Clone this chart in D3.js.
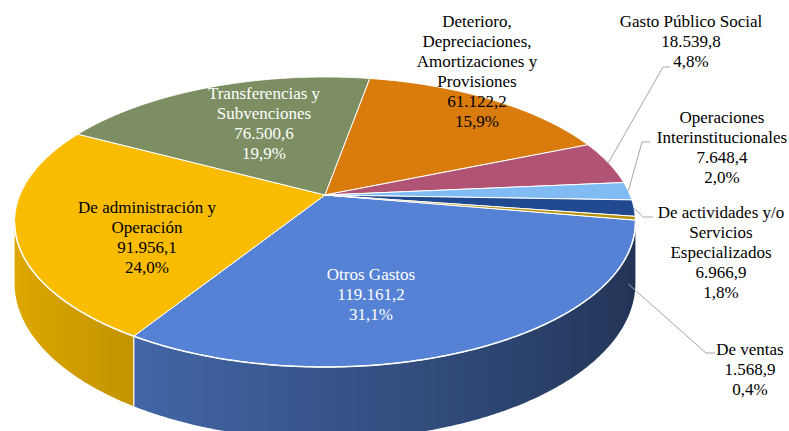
<!DOCTYPE html>
<html>
<head>
<meta charset="utf-8">
<script src="https://cdn.jsdelivr.net/npm/d3@7"></script>
<style>
  body { margin: 0; background: #fff; }
  svg { display: block; }
</style>
</head>
<body>
<div id="chart"></div>
<script>
// Data
const categoryLines = [
    ['Otros Gastos'],
    ['De administración y', 'Operación'],
    ['Transferencias y', 'Subvenciones'],
    ['Deterioro,', 'Depreciaciones,', 'Amortizaciones y', 'Provisiones'],
    ['Gasto Público Social'],
    ['Operaciones', 'Interinstitucionales'],
    ['De actividades y/o', 'Servicios', 'Especializados'],
    ['De ventas']
];
const values = [119161.2, 91956.1, 76500.6, 61122.2, 18539.8, 7648.4, 6966.9, 1568.9];
const percentLabels = ['31,1%', '24,0%', '19,9%', '15,9%', '4,8%', '2,0%', '1,8%', '0,4%'];

// Styles
const colors = ['#5582d5', '#f9bc00', '#7d8e63', '#d97c0d', '#b15375', '#80bcf3', '#21498f', '#b8920b'];
const textColors = ['#fff', '#000', '#fff', '#000', '#000', '#000', '#000', '#000'];

// Label layout: anchor of first baseline, optional leader elbow
const labelLayout = [
    { x: 371, y: 280 },
    { x: 147, y: 213 },
    { x: 264, y: 99 },
    { x: 477, y: 27 },
    { x: 691, y: 27, elbow: [663, 67], end: [670, 67], start: 'top' },
    { x: 722, y: 123, elbow: [642, 142], end: [650, 142], start: 'top' },
    { x: 721, y: 218, elbow: [643, 217], end: [653, 217], start: 'top' },
    { x: 750, y: 355, elbow: [706, 353], end: [715, 353], start: 'bottom' }
];

// 3D pie geometry
const config = {
    width: 789,
    height: 431,
    cx: 325,
    cy: 195,
    rx: 305,
    ry: 140,
    persp: -0.186,
    depth: 59,
    startDeg: 100,
    lineHeight: 20,
    font: 'Liberation Serif, serif'
};

const fmt = d3.formatLocale({ decimal: ',', thousands: '.', grouping: [3], currency: ['', ''] }).format(',.1f');

const svg = d3.select('#chart')
    .append('svg')
    .attr('width', config.width)
    .attr('height', config.height);

const defs = svg.append('defs');

// project a point of the pie plane (clock angle, radius) to the screen
function proj(theta, r, bottom) {
    const u = r * Math.sin(theta);
    const v = -r * Math.cos(theta);
    const w = 1 + config.persp * v;
    const x = config.cx + config.rx * u / w;
    let y = config.cy + config.ry * v / w;
    if (bottom) y += config.depth / w;
    return [x, y];
}

// wall shading: lighter on the left, darker on the right
function shade(color, theta) {
    const u = Math.sin(theta);
    const f = Math.max(0.3, Math.min(0.92, 0.65 - 0.255 * u));
    const c = d3.rgb(color);
    return d3.rgb(c.r * f, c.g * f, c.b * f).formatHex();
}

const start = config.startDeg * Math.PI / 180;
const arcs = d3.pie()
    .sort(null)
    .value(d => d)
    .startAngle(start)
    .endAngle(start + 2 * Math.PI)(values);

const line = d3.line();
const sampleAngles = (a, b) => {
    const n = Math.max(2, Math.ceil((b - a) / (0.5 * Math.PI / 180)));
    return d3.range(n + 1).map(i => a + (b - a) * i / n);
};

// visible wall range (silhouette where cos(theta) = persp)
const silA = Math.acos(config.persp);
const silB = 2 * Math.PI - silA;

const layers = {
    walls: svg.append('g').attr('class', 'wall-layer'),
    tops: svg.append('g').attr('class', 'top-layer'),
    leaders: svg.append('g').attr('class', 'leader-layer'),
    labels: svg.append('g').attr('class', 'label-layer')
};

// Side walls
let gradCount = 0;
arcs.forEach((d, i) => {
    [0, 2 * Math.PI, -2 * Math.PI].forEach(p => {
        const a = Math.max(d.startAngle + p, silA);
        const b = Math.min(d.endAngle + p, silB);
        if (b <= a) return;
        const angs = sampleAngles(a, b);
        const topPts = angs.map(t => proj(t, 1, false));
        const botPts = angs.slice().reverse().map(t => proj(t, 1, true));
        const xs = topPts.map(q => q[0]);
        const x0 = d3.min(xs), x1 = d3.max(xs);
        const gid = 'wall-grad-' + (gradCount++);
        const grad = defs.append('linearGradient')
            .attr('id', gid)
            .attr('gradientUnits', 'userSpaceOnUse')
            .attr('x1', x0).attr('x2', x1)
            .attr('y1', 0).attr('y2', 0);
        const stops = angs.map(t => ({ o: (proj(t, 1)[0] - x0) / Math.max(1, x1 - x0), c: shade(colors[i], t) }))
            .sort((m, n) => m.o - n.o);
        grad.selectAll('stop')
            .data(stops)
            .join('stop')
            .attr('offset', s => s.o)
            .attr('stop-color', s => s.c);
        layers.walls.append('path')
            .attr('d', line(topPts.concat(botPts)) + 'Z')
            .attr('fill', `url(#${gid})`)
            .attr('stroke', 'none');
        // white seam at slice boundary on the wall
        [d.startAngle + p, d.endAngle + p].forEach(t => {
            if (t > silA + 0.01 && t < silB - 0.01) {
                layers.walls.append('path')
                    .attr('d', line([proj(t, 1, false), proj(t, 1, true)]))
                    .attr('stroke', '#fff')
                    .attr('stroke-width', 1);
            }
        });
    });
});

// Top faces
layers.tops.selectAll('path')
    .data(arcs)
    .join('path')
    .attr('d', d => {
        const pts = [proj(0, 0)].concat(sampleAngles(d.startAngle, d.endAngle).map(t => proj(t, 1)));
        return line(pts) + 'Z';
    })
    .attr('fill', (d, i) => colors[i])
    .attr('stroke', '#fff')
    .attr('stroke-width', 1)
    .attr('stroke-linejoin', 'round');

// Front rim highlight
layers.tops.append('path')
    .attr('d', line(sampleAngles(silA, silB).map(t => proj(t, 1))))
    .attr('fill', 'none')
    .attr('stroke', '#fff')
    .attr('stroke-width', 1.5);

// Leader lines
arcs.forEach((d, i) => {
    const lay = labelLayout[i];
    if (!lay.elbow) return;
    const mid = (d.startAngle + d.endAngle) / 2;
    const p0 = proj(mid, 1, lay.start === 'bottom');
    if (lay.start === 'bottom') { p0[0] -= 7; p0[1] += 5; }
    layers.leaders.append('path')
        .attr('d', line([p0, lay.elbow, lay.end]))
        .attr('fill', 'none')
        .attr('stroke', '#a6a6a6')
        .attr('stroke-width', 1);
});

// Labels
arcs.forEach((d, i) => {
    const lay = labelLayout[i];
    const lines = categoryLines[i].concat([fmt(values[i]), percentLabels[i]]);
    const t = layers.labels.append('text')
        .attr('font-family', config.font)
        .attr('font-size', 17)
        .attr('text-anchor', 'middle')
        .attr('fill', textColors[i]);
    t.selectAll('tspan')
        .data(lines)
        .join('tspan')
        .attr('x', lay.x)
        .attr('y', (s, k) => lay.y + k * config.lineHeight)
        .text(s => s);
});
</script>
</body>
</html>
